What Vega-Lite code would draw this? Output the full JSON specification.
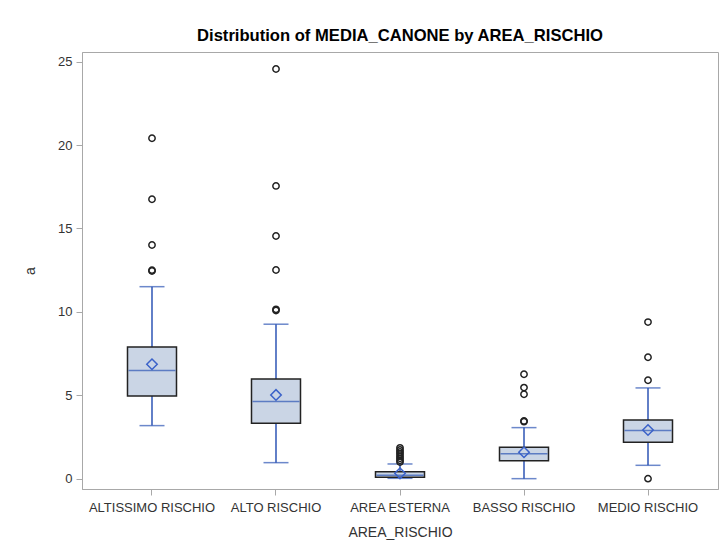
{
  "$schema": "https://vega.github.io/schema/vega-lite/v6.json",
  "width": 636,
  "height": 437,
  "autosize": {"type": "none"},
  "padding": {"left": 82, "top": 52, "right": 3, "bottom": 55},
  "background": "white",
  "title": {
    "text": "Distribution of MEDIA_CANONE by AREA_RISCHIO",
    "font": "Liberation Sans",
    "fontSize": 16.6,
    "fontWeight": "bold",
    "color": "#000000",
    "anchor": "middle",
    "offset": 7
  },
  "config": {
    "view": {"stroke": "#A8A8A8", "strokeWidth": 1},
    "axis": {
      "labelFont": "Liberation Sans",
      "titleFont": "Liberation Sans",
      "labelFontSize": 13,
      "titleFontSize": 14,
      "titleFontWeight": "normal",
      "labelColor": "#333333",
      "titleColor": "#333333",
      "domainColor": "#A8A8A8",
      "tickColor": "#A8A8A8",
      "tickSize": 6,
      "grid": false
    }
  },
  "datasets": {
    "boxes": [
      {"AREA_RISCHIO": "ALTISSIMO RISCHIO", "lo": 3.18, "q1": 4.96, "median": 6.48, "q3": 7.9, "hi": 11.51, "mean": 6.86},
      {"AREA_RISCHIO": "ALTO RISCHIO", "lo": 0.96, "q1": 3.32, "median": 4.62, "q3": 5.98, "hi": 9.26, "mean": 5.02},
      {"AREA_RISCHIO": "AREA ESTERNA", "lo": 0.02, "q1": 0.08, "median": 0.2, "q3": 0.42, "hi": 0.88, "mean": 0.32},
      {"AREA_RISCHIO": "BASSO RISCHIO", "lo": 0.0, "q1": 1.08, "median": 1.5, "q3": 1.88, "hi": 3.06, "mean": 1.58},
      {"AREA_RISCHIO": "MEDIO RISCHIO", "lo": 0.8, "q1": 2.18, "median": 2.88, "q3": 3.52, "hi": 5.44, "mean": 2.92}
    ],
    "outliers": [
      {"AREA_RISCHIO": "ALTISSIMO RISCHIO", "a": 20.41},
      {"AREA_RISCHIO": "ALTISSIMO RISCHIO", "a": 16.75},
      {"AREA_RISCHIO": "ALTISSIMO RISCHIO", "a": 14.01},
      {"AREA_RISCHIO": "ALTISSIMO RISCHIO", "a": 12.45},
      {"AREA_RISCHIO": "ALTISSIMO RISCHIO", "a": 12.5},
      {"AREA_RISCHIO": "ALTO RISCHIO", "a": 24.56},
      {"AREA_RISCHIO": "ALTO RISCHIO", "a": 17.55},
      {"AREA_RISCHIO": "ALTO RISCHIO", "a": 14.55},
      {"AREA_RISCHIO": "ALTO RISCHIO", "a": 12.51},
      {"AREA_RISCHIO": "ALTO RISCHIO", "a": 10.08},
      {"AREA_RISCHIO": "ALTO RISCHIO", "a": 10.15},
      {"AREA_RISCHIO": "AREA ESTERNA", "a": 1.0},
      {"AREA_RISCHIO": "AREA ESTERNA", "a": 1.1},
      {"AREA_RISCHIO": "AREA ESTERNA", "a": 1.22},
      {"AREA_RISCHIO": "AREA ESTERNA", "a": 1.35},
      {"AREA_RISCHIO": "AREA ESTERNA", "a": 1.48},
      {"AREA_RISCHIO": "AREA ESTERNA", "a": 1.6},
      {"AREA_RISCHIO": "AREA ESTERNA", "a": 1.72},
      {"AREA_RISCHIO": "AREA ESTERNA", "a": 1.85},
      {"AREA_RISCHIO": "BASSO RISCHIO", "a": 6.26},
      {"AREA_RISCHIO": "BASSO RISCHIO", "a": 5.46},
      {"AREA_RISCHIO": "BASSO RISCHIO", "a": 5.06},
      {"AREA_RISCHIO": "BASSO RISCHIO", "a": 3.42},
      {"AREA_RISCHIO": "BASSO RISCHIO", "a": 3.46},
      {"AREA_RISCHIO": "MEDIO RISCHIO", "a": 9.39},
      {"AREA_RISCHIO": "MEDIO RISCHIO", "a": 7.28},
      {"AREA_RISCHIO": "MEDIO RISCHIO", "a": 5.9},
      {"AREA_RISCHIO": "MEDIO RISCHIO", "a": 0.0}
    ]
  },
  "encoding": {
    "x": {
      "field": "AREA_RISCHIO",
      "type": "nominal",
      "title": "AREA_RISCHIO",
      "scale": {"type": "band", "paddingInner": 0, "paddingOuter": 0.0645},
      "axis": {"labelAngle": 0, "labelPadding": 6, "titlePadding": 11}
    }
  },
  "layer": [
    {
      "data": {"name": "boxes"},
      "mark": {"type": "rule", "color": "#2E55B5", "strokeWidth": 1.5},
      "encoding": {
        "y": {
          "field": "lo",
          "type": "quantitative",
          "title": "a",
          "scale": {"domain": [-0.62, 25.58], "nice": false, "zero": false},
          "axis": {"values": [0, 5, 10, 15, 20, 25], "labelPadding": 4, "titlePadding": 20}
        },
        "y2": {"field": "hi"}
      }
    },
    {
      "data": {"name": "boxes"},
      "mark": {"type": "tick", "color": "#2E55B5", "size": 25, "thickness": 1.5, "orient": "horizontal"},
      "encoding": {"y": {"field": "lo", "type": "quantitative"}}
    },
    {
      "data": {"name": "boxes"},
      "mark": {"type": "tick", "color": "#2E55B5", "size": 25, "thickness": 1.5, "orient": "horizontal"},
      "encoding": {"y": {"field": "hi", "type": "quantitative"}}
    },
    {
      "data": {"name": "boxes"},
      "mark": {"type": "bar", "width": 49, "fill": "#CAD5E5", "stroke": "#222222", "strokeWidth": 1.5},
      "encoding": {
        "y": {"field": "q1", "type": "quantitative"},
        "y2": {"field": "q3"}
      }
    },
    {
      "data": {"name": "boxes"},
      "mark": {"type": "tick", "color": "#2E55B5", "size": 47, "thickness": 1.5, "orient": "horizontal"},
      "encoding": {"y": {"field": "median", "type": "quantitative"}}
    },
    {
      "data": {"name": "boxes"},
      "mark": {"type": "point", "shape": "diamond", "filled": false, "color": "#3B62C9", "strokeWidth": 1.5, "size": 110, "opacity": 1},
      "encoding": {"y": {"field": "mean", "type": "quantitative"}}
    },
    {
      "data": {"name": "outliers"},
      "mark": {"type": "point", "shape": "circle", "filled": false, "color": "#222222", "strokeWidth": 1.5, "size": 40, "opacity": 1},
      "encoding": {"y": {"field": "a", "type": "quantitative"}}
    }
  ]
}
